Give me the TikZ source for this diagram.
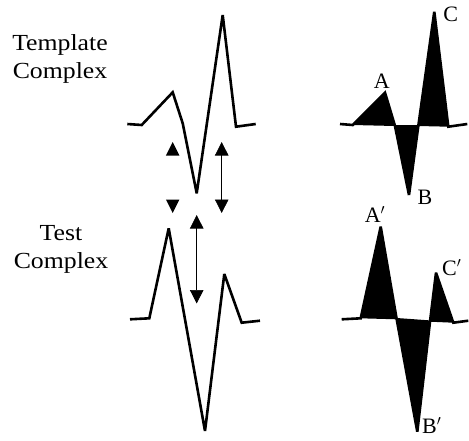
\documentclass[tikz,border=0pt]{standalone}
\usepackage{fontspec}
\setmainfont{Liberation Serif}
\usetikzlibrary{arrows.meta}
\tikzset{
  wave/.style={line width=2.6pt, line join=miter, miter limit=4},
  lobe/.style={fill=black},
  lbl/.style={font=\fontsize{22}{26}\selectfont, inner sep=0pt, anchor=base},
  side/.style={font=\fontsize{23}{28}\selectfont, inner sep=0pt, anchor=base, xscale=1.12},
  dbl/.style={line width=0.7pt, {Triangle[width=13.5pt,length=13.5pt]}-{Triangle[width=13.5pt,length=13.5pt]}},
  head/.style={fill=black}
}
\begin{document}
\begin{tikzpicture}[x=1pt,y=-1pt]
\useasboundingbox (0,0) rectangle (469,440);
% side labels
\node[side] (t1) at (60,50) {Template};
\node[side] (t2) at (60,78.3) {Complex};
\node[side] (s1) at (61,240) {Test};
\node[side] (s2) at (61,268.3) {Complex};
% template waveform (left)
\draw[wave] (127.3,124) -- (141.7,125) -- (172.7,92.3) -- (182.7,123.3) -- (196.7,193.3) -- (222.7,15) -- (236,126.7) -- (255.7,124);
% test waveform (left)
\draw[wave] (130,319.3) -- (149.3,318.3) -- (168.7,228.3) -- (205,431) -- (224.3,274) -- (241.7,322.7) -- (260,320.7);
% arrow heads without shaft
\fill[head] (172.7,142) -- (179.45,155.5) -- (165.95,155.5) -- cycle;
\fill[head] (172.7,213) -- (179.45,199.5) -- (165.95,199.5) -- cycle;
% double arrows
\coordinate (r1) at (221.7,142);
\coordinate (r2) at (221.7,213);
\draw[dbl] (r1) -- (r2);
\coordinate (m1) at (196.7,215);
\coordinate (m2) at (196.7,303.5);
\draw[dbl] (m1) -- (m2);
% template right with filled lobes
\fill[lobe] (352.7,125) -- (385,92.7) -- (395,126) -- cycle;
\fill[lobe] (395,126) -- (409,195) -- (418.3,126) -- cycle;
\fill[lobe] (418.3,126) -- (434.3,11.7) -- (448.3,126.7) -- cycle;
\draw[wave] (340,124) -- (352.7,125) -- (385,92.7) -- (395,126) -- (409,195) -- (418.3,126) -- (434.3,11.7) -- (448.3,126.7) -- (467.3,124);
\draw[wave] (395,126) -- (418.3,126);
\node[lbl] (A) at (381.7,88.3) {A};
\node[lbl] (B) at (425,204) {B};
\node[lbl] (C) at (450.7,21.7) {C};
% test right with filled lobes
\fill[lobe] (360.7,318.3) -- (380.7,226.7) -- (396.7,319.3) -- cycle;
\fill[lobe] (396.7,319.3) -- (417.3,431.7) -- (430,321.7) -- cycle;
\fill[lobe] (430,321.7) -- (436,272.7) -- (453.3,322.7) -- cycle;
\draw[wave] (341.7,319.3) -- (360.7,318.3) -- (380.7,226.7) -- (396.7,319.3) -- (417.3,431.7) -- (430,321.7) -- (436,272.7) -- (453.3,322.7) -- (468.3,320.7);
\draw[wave] (396.7,319.3) -- (430,321.7);
\node[lbl] (A2) at (375,222) {A$'$};
\node[lbl] (B2) at (431.7,433) {B$'$};
\node[lbl] (C2) at (451.7,275) {C$'$};
\end{tikzpicture}
\end{document}
